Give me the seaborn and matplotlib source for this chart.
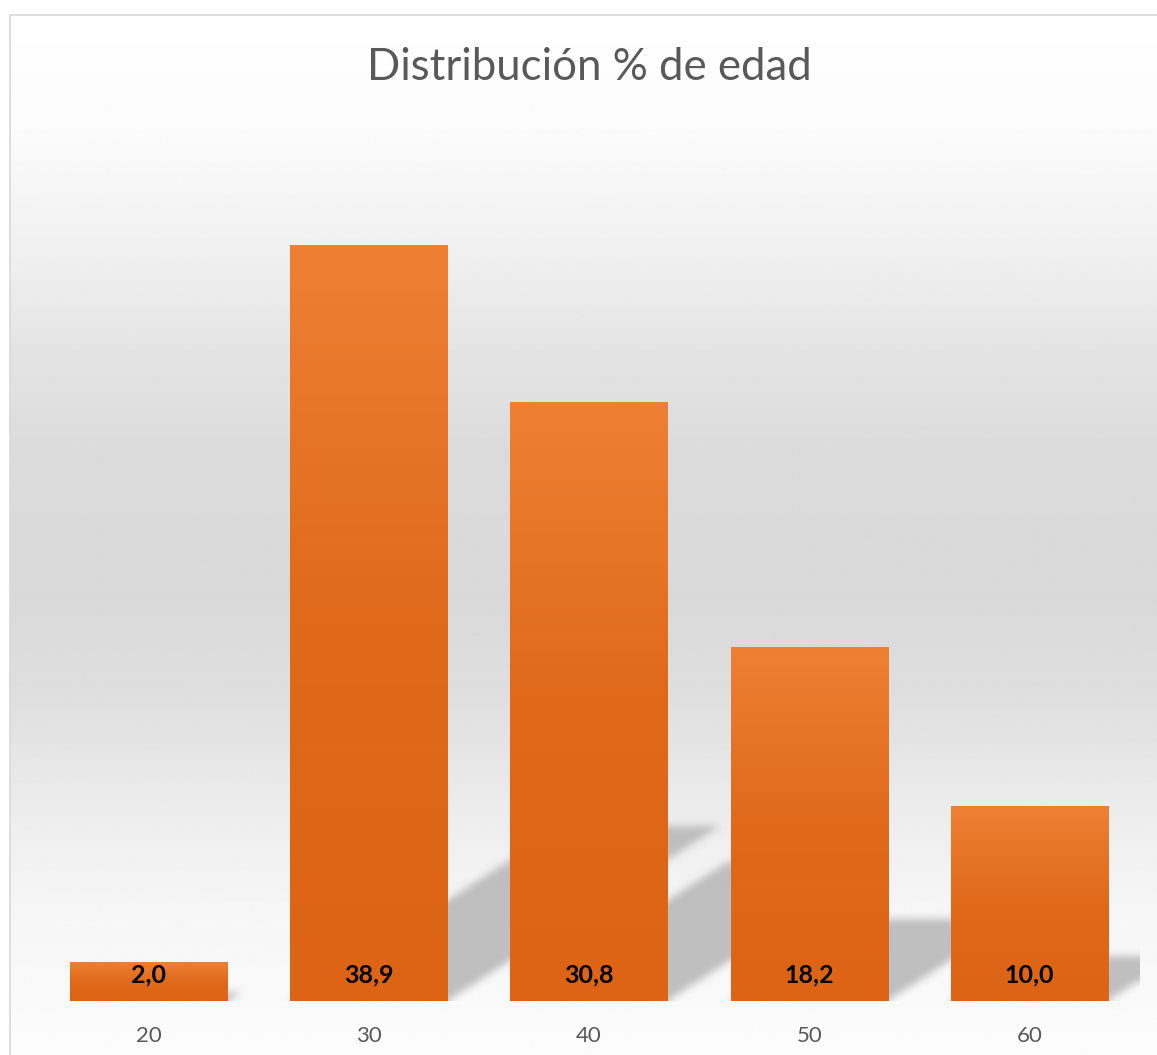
import numpy as np
import pandas as pd
import matplotlib
matplotlib.use("Agg")
import matplotlib.pyplot as plt
from matplotlib.patches import Rectangle
from matplotlib.path import Path
from matplotlib.colors import LinearSegmentedColormap
import seaborn as sns

# ---- data ----
categories = ["20", "30", "40", "50", "60"]
values = [2.0, 38.9, 30.8, 18.2, 10.0]
value_labels = ["2,0", "38,9", "30,8", "18,2", "10,0"]
title = "Distribución % de edad"

sns.set_theme(style="white")
plt.rcParams["font.family"] = ["Lato", "DejaVu Sans"]

W, H = 1157, 1055
fig = plt.figure(figsize=(W / 100, H / 100), dpi=100)
fig.patch.set_facecolor("white")

# chart-area background with vertical gradient
bg = fig.add_axes([10 / W, 0, 1 - 10 / W, 1 - 15 / H], zorder=-2)
stops_y = np.array([15, 130, 250, 350, 450, 600, 700, 800, 900, 1055])
stops_c = np.array([255, 251, 240, 228, 219, 217, 223, 235, 245, 252])
ys = np.linspace(15, 1055, 600)
col = np.interp(ys, stops_y, stops_c) / 255.0
img = np.repeat(col[:, None], 2, axis=1)
bg.imshow(img, cmap="gray", vmin=0, vmax=1, aspect="auto", extent=[0, 1, 0, 1],
          interpolation="bilinear")
bg.set_xlim(0, 1); bg.set_ylim(0, 1)
bg.set_xticks([]); bg.set_yticks([])
for s in bg.spines.values():
    s.set_visible(False)
fig.patches.append(Rectangle((10 / W, -0.01), 1.2, 1 - 15 / H + 0.01,
                             transform=fig.transFigure, fill=False,
                             edgecolor="#d9d9d9", linewidth=1.2, zorder=-1))

# main axes
base_px = 1001
scale = 19.43
ymax = 45
ax = fig.add_axes([38.5 / W, (H - base_px) / H, 1101 / W, ymax * scale / H])
ax.set_facecolor("none")

df = pd.DataFrame({"edad": categories, "pct": values})
bw = 0.714
sns.barplot(data=df, x="edad", y="pct", order=categories, width=bw,
            color="#E46C1E", saturation=1, linewidth=0, ax=ax, zorder=3)

# soft perspective shadows (rasterised, blurred)
nx, ny = 1101, int(round(ymax * scale))
gx = np.linspace(-0.5, 4.5, nx)
gy = np.linspace(0, ymax, ny)
GX, GY = np.meshgrid(gx, gy)
pts = np.column_stack([GX.ravel(), GY.ravel()])
mask = np.zeros(GX.size, dtype=bool)
for i, h in enumerate(values):
    xl, xr = i - bw / 2, i + bw / 2
    sx, sy = 0.0319 * h, 0.2316 * h
    poly = Path([(xl, -1), (xr, -1), (xr, 0), (xr + sx, sy), (xl + sx, sy), (xl, 0)])
    mask |= poly.contains_points(pts)
mask = mask.reshape(GY.shape).astype(float)

def blur1d(a, r, axis):
    k = np.ones(2 * r + 1) / (2 * r + 1)
    return np.apply_along_axis(lambda v: np.convolve(np.pad(v, r, mode="edge"), k, mode="valid"), axis, a)

for _ in range(2):
    mask = blur1d(mask, 4, 0)
    mask = blur1d(mask, 4, 1)
shadow = np.zeros(mask.shape + (4,))
shadow[..., :3] = 0.74
shadow[..., 3] = np.clip(mask, 0, 1) * 0.95
ax.imshow(shadow, origin="lower", aspect="auto", extent=[-0.5, 4.5, 0, ymax],
          zorder=1, interpolation="bilinear")

# gradient fill on bars
cmap = LinearSegmentedColormap.from_list("og", ["#dc6414", "#e0691a", "#ee8034"])
grad = np.linspace(0, 1, 256)[:, None]
for p in list(ax.patches):
    if isinstance(p, Rectangle) and p.get_height() > 0:
        x0, w, h = p.get_x(), p.get_width(), p.get_height()
        ax.imshow(grad, cmap=cmap, origin="lower", aspect="auto",
                  extent=[x0, x0 + w, 0, h], zorder=3.5, interpolation="bilinear")

for i, lab in enumerate(value_labels):
    ax.text(i, 1.35, lab, ha="center", va="center", fontsize=18,
            fontweight="bold", color="black", zorder=5)

ax.set_xlim(-0.5, 4.5)
ax.set_ylim(0, ymax)
ax.set_xlabel(""); ax.set_ylabel("")
ax.set_yticks([])
ax.tick_params(axis="x", length=0, pad=18, labelsize=16, labelcolor="#595959")
for s in ax.spines.values():
    s.set_visible(False)

fig.text(589 / W, 1 - 68 / H, title, ha="center", va="center", fontsize=31.5,
         color="#595959", fontweight="normal")

fig.savefig("out.png", dpi=100)
